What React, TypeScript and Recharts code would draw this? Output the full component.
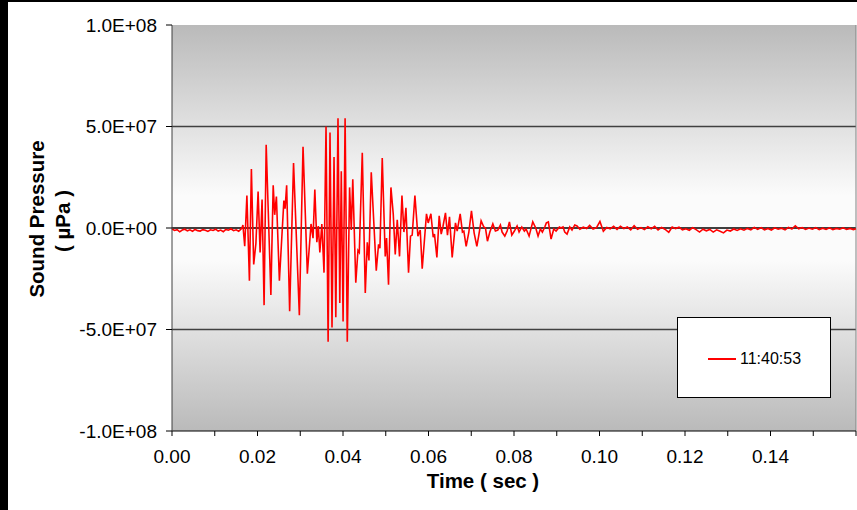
import {
  LineChart,
  Line,
  XAxis,
  YAxis,
  CartesianGrid,
  ReferenceLine,
} from "recharts";

// [time in ms, pressure in 1E6 µPa]
const onsetNoise: [number, number][] = [
  [0, -0.5], [0.6, -1.2], [1.2, -0.8], [1.8, -1.9], [2.4, -1.0], [3.0, -0.6],
  [3.6, -1.4], [4.2, -0.9], [4.8, -1.6], [5.4, -0.7], [6.0, -1.3], [6.6, -1.5],
  [7.2, -0.8], [7.8, -1.1], [8.4, -1.7], [9.0, -0.9], [9.6, -1.2], [10.2, -0.6],
  [10.8, -1.5], [11.4, -1.0], [12.0, -1.8], [12.6, -0.7], [13.2, -1.1], [13.8, -0.4],
  [14.4, -1.3], [15.0, -0.9], [15.6, -1.6], [16.0, -0.8],
];

const mainBurst: [number, number][] = [
  [16.36, 0], [16.59, 1.5], [17.01, -9], [17.52, 16], [18.11, -26], [18.57, 29],
  [19.11, -18], [19.63, -7.5], [20.14, 18], [20.61, -12], [21.07, 14], [21.54, -38],
  [22.03, 41], [23.13, -33], [23.67, 21], [24.02, 6.5], [24.42, 15.5], [25.12, -26],
  [26.17, 13.5], [26.45, 9.5], [26.82, 21], [27.52, -41], [28.43, 32], [29.79, -43],
  [30.65, 40], [31.66, -22.5], [32.52, 2], [32.99, -5], [33.41, 19], [33.88, -7],
  [34.23, 1], [34.58, -12], [35.05, 2], [35.56, -22], [36.03, 50], [36.52, -56],
  [36.96, 47], [37.43, -49], [37.9, 35], [38.32, -44], [38.83, 54], [39.25, -37],
  [39.6, 28], [40.02, -46], [40.49, 54], [41.0, -56], [41.54, 20], [41.94, -1],
  [42.29, 24], [42.99, -27], [43.5, -11], [43.81, -12], [44.51, 37], [45.21, -32],
  [45.68, -7], [46.07, -16], [46.61, 27.5], [47.78, -21], [48.32, -8], [48.64, -10],
  [49.18, 34.5], [49.88, -14], [50.19, -5], [50.65, -28], [51.21, 20], [51.75, 7],
  [52.22, -13], [52.69, 4], [53.22, -14], [53.79, 16], [54.25, -2], [54.72, 10],
  [55.33, -22], [55.79, -4], [56.19, -3.5], [56.82, 16], [57.52, -4],
];

const decay: [number, number][] = [
  [58.06, -1], [58.53, -20], [59.53, 7], [59.93, 2.5], [60.56, 7], [61.1, -4.5],
  [61.4, -3], [61.96, -14.5], [62.5, 6], [62.97, -3], [63.36, 0.5], [63.97, 7.5],
  [64.44, -3.5], [64.91, 5.5], [65.54, -14.5], [66.31, 2.5], [66.71, -1.5], [67.41, 7],
  [67.94, -2], [68.27, -1.5], [68.81, -9], [69.44, -2], [70.05, 8.5], [70.68, -2.5],
  [71.31, -9], [71.73, -4], [72.31, 3.5], [72.94, 0.5], [73.32, 0], [73.79, -6.5],
  [74.35, -2], [75.05, 2], [75.65, -1.5], [76.21, -1], [76.82, 1.5], [77.22, -2],
  [77.85, -4], [78.39, -1.5], [78.93, 3], [79.49, -3.5], [80.09, -1.5], [80.72, 1],
  [81.19, -2], [81.82, 0.5], [82.43, -1.5], [82.83, -0.5], [83.53, -4], [84.39, 3],
  [85.09, 0], [85.63, -4], [86.17, -0.5], [86.64, -2], [87.2, 0.5], [87.57, 2.5],
  [88.04, 3], [88.67, -5.5], [89.3, -0.5], [89.84, -1.5], [90.61, 0.5], [91.0, 0],
  [91.47, 0.5], [91.87, -2], [92.41, -3], [93.04, 0.5], [93.57, -1], [94.21, 1.5],
  [94.74, 1],
];

const tail: [number, number][] = [
  [95.4, -0.6], [96.2, 0.4], [97.0, -0.3], [97.7, 1.3], [98.5, -0.5], [99.3, 0.2],
  [100.1, 3.2], [100.9, -1.6], [101.7, 0.3], [102.5, -0.4], [103.3, 0.8], [104.1, -0.7],
  [104.9, 0.9], [105.7, -0.3], [106.5, 0.5], [107.3, -0.9], [108.1, 1.1], [108.9, -0.6],
  [109.7, 0.2], [110.5, -0.8], [111.3, 0.6], [112.1, -0.4], [112.9, 0.8], [113.7, -1.0],
  [114.5, 0.3], [115.3, -0.6], [116.2, -2.1], [117.0, 0.5], [117.8, -0.3], [118.6, 0.4],
  [119.4, -0.9], [120.2, -0.4], [121.0, -1.1], [121.8, 0.2], [122.6, -0.8], [123.4, -2.0],
  [124.2, -0.6], [125.0, -1.4], [125.8, -0.7], [126.6, -2.0], [127.4, -0.9], [128.2, -1.6],
  [129.0, -2.4], [129.8, -1.0], [130.6, -1.5], [131.4, -0.5], [132.2, -1.2], [133.0, -0.4],
  [133.8, -1.1], [134.6, -0.2], [135.4, -0.9], [136.2, 0.3], [137.0, -0.7], [137.8, 0.2],
  [138.6, -0.9], [139.4, -0.2], [140.2, -1.0], [141.0, 0.1], [141.8, -0.6], [142.6, -0.1],
  [143.4, -0.9], [144.2, 0.3], [145.0, -0.5], [145.8, 1.1], [146.6, -0.4], [147.4, 0.2],
  [148.2, -0.7], [149.0, 0.0], [149.8, -0.6], [150.6, 0.2], [151.4, -0.8], [152.2, -0.1],
  [153.0, -0.7], [153.8, 0.1], [154.6, -0.8], [155.4, -0.2], [156.2, -0.6], [157.0, 0.1],
  [157.8, -0.7], [158.6, -0.2], [159.4, -0.8], [160.0, -0.4],
];

const xTicks = [
  0, 0.01, 0.02, 0.03, 0.04, 0.05, 0.06, 0.07, 0.08, 0.09, 0.1, 0.11, 0.12, 0.13,
  0.14, 0.15, 0.16,
];
const yTicks = [-1e8, -5e7, 0, 5e7, 1e8];
const seriesName = "11:40:53";

const data = [...onsetNoise, ...mainBurst, ...decay, ...tail].map(([ms, p]) => ({
  time: ms / 1000,
  pressure: p * 1e6,
}));

const FONT = "Arial, 'Liberation Sans', sans-serif";

const sci = (v: number) => {
  if (v === 0) return "0.0E+00";
  const e = Math.floor(Math.log10(Math.abs(v)));
  const m = v / Math.pow(10, e);
  return `${m.toFixed(1)}E+${String(e).padStart(2, "0")}`;
};

const timeLabel = (v: number) => {
  const hundredths = Math.round(v * 100);
  return hundredths % 2 === 0 && hundredths < 16 ? v.toFixed(2) : "";
};

const titleProps = {
  textAnchor: "middle" as const,
  dominantBaseline: "central" as const,
  fontFamily: FONT,
  fontWeight: "bold",
  fontSize: 20.5,
  fill: "#000",
};

const YTitle = () => (
  <g>
    <text x={36} y={219} transform="rotate(-90, 36, 219)" {...titleProps}>
      Sound Pressure
    </text>
    <text x={62} y={221} transform="rotate(-90, 62, 221)" {...titleProps}>
      ( µPa )
    </text>
  </g>
);

const XTitle = () => (
  <text x={483} y={480} {...titleProps}>
    Time ( sec )
  </text>
);

export default function App() {
  return (
    <div
      style={{
        position: "absolute",
        left: 0,
        top: 0,
        width: 857,
        height: 510,
        background: "#fff",
        overflow: "hidden",
      }}
    >
      <LineChart
        width={857}
        height={510}
        data={data}
        margin={{ top: 25, right: 1, bottom: 29, left: 0 }}
      >
        <defs>
          <linearGradient id="plotBg" x1="0" y1="0" x2="0" y2="1">
            <stop offset="0%" stopColor="#bababa" />
            <stop offset="42%" stopColor="#fbfbfb" />
            <stop offset="58%" stopColor="#fbfbfb" />
            <stop offset="100%" stopColor="#bababa" />
          </linearGradient>
        </defs>
        <CartesianGrid fill="url(#plotBg)" horizontal={false} vertical={false} />
        <XAxis
          dataKey="time"
          type="number"
          domain={[0, 0.16]}
          ticks={xTicks}
          interval={0}
          tickFormatter={timeLabel}
          height={50}
          tickSize={5}
          tickMargin={14}
          axisLine={{ stroke: "#000" }}
          tickLine={{ stroke: "#000" }}
          tick={{ fill: "#000", fontSize: 19, fontFamily: FONT }}
          label={<XTitle />}
        />
        <YAxis
          type="number"
          domain={[-1e8, 1e8]}
          ticks={yTicks}
          interval={0}
          tickFormatter={sci}
          width={172}
          tickSize={6}
          tickMargin={9}
          axisLine={{ stroke: "#404040" }}
          tickLine={{ stroke: "#000" }}
          tick={{ fill: "#000", fontSize: 19, fontFamily: FONT }}
          label={<YTitle />}
        />
        <ReferenceLine y={5e7} stroke="#404040" strokeWidth={1.5} />
        <ReferenceLine y={-5e7} stroke="#404040" strokeWidth={1.5} />
        <ReferenceLine y={0} stroke="#000" strokeWidth={1.5} />
        <ReferenceLine x={0.16} stroke="#808080" />
        <Line
          type="linear"
          dataKey="pressure"
          name={seriesName}
          stroke="#ff0000"
          strokeWidth={1.6}
          dot={false}
          isAnimationActive={false}
        />
      </LineChart>
      <div
        style={{
          position: "absolute",
          left: 677,
          top: 317,
          width: 152,
          height: 79,
          border: "1px solid #000",
          background: "#fff",
          fontFamily: FONT,
          fontSize: 16,
        }}
      >
        <div
          style={{
            position: "absolute",
            left: 30,
            top: 40,
            width: 28,
            height: 1.5,
            background: "#ff0000",
          }}
        />
        <div style={{ position: "absolute", left: 62, top: 31, lineHeight: "20px" }}>
          {seriesName}
        </div>
      </div>
      <div
        style={{ position: "absolute", left: 0, top: 0, width: 8, height: 510, background: "#000" }}
      />
      <div
        style={{ position: "absolute", left: 0, top: 0, width: 857, height: 2, background: "#000" }}
      />
    </div>
  );
}
